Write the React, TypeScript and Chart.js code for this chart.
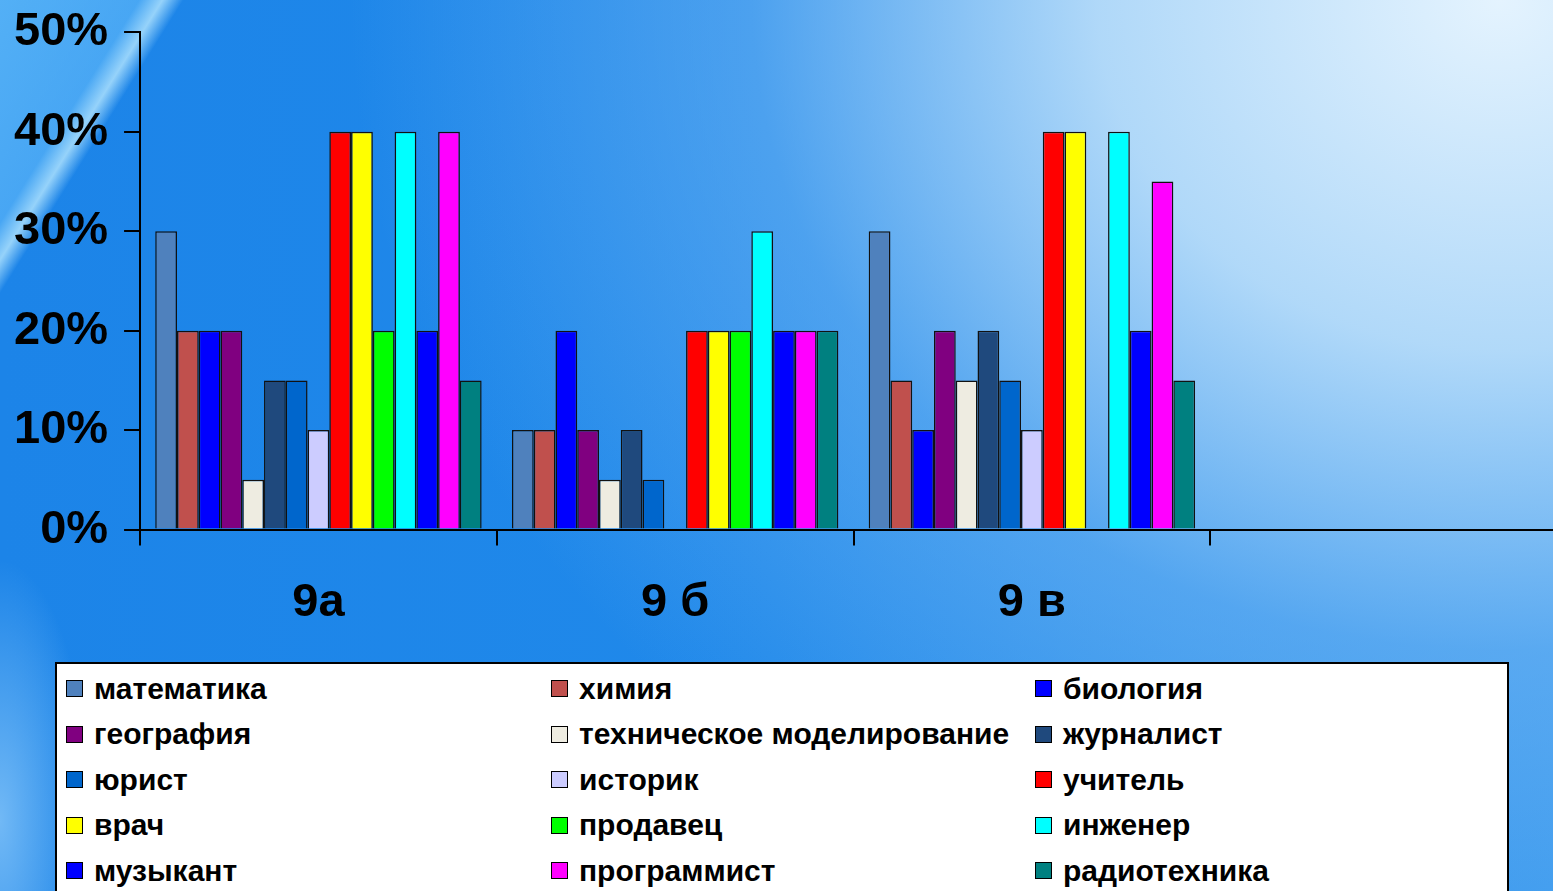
import React, { useEffect, useRef } from 'react';
import { Chart, registerables } from 'chart.js';

Chart.register(...registerables);

// categories on the x axis (the fourth one is empty in the original slide)
const categories = ['9а', '9 б', '9 в', ''];

const seriesNames = [
  'математика',
  'химия',
  'биология',
  'география',
  'техническое моделирование',
  'журналист',
  'юрист',
  'историк',
  'учитель',
  'врач',
  'продавец',
  'инженер',
  'музыкант',
  'программист',
  'радиотехника',
];

const seriesColors = [
  '#4F81BD',
  '#C0504D',
  '#0000FF',
  '#800080',
  '#EEECE1',
  '#1F497D',
  '#0066CC',
  '#CCCCFF',
  '#FF0000',
  '#FFFF00',
  '#00FF00',
  '#00FFFF',
  '#0000FF',
  '#FF00FF',
  '#008080',
];

// percent per series, one array per class
const values9a = [30, 20, 20, 20, 5, 15, 15, 10, 40, 40, 20, 40, 20, 40, 15];
const values9b = [10, 10, 20, 10, 5, 10, 5, 0, 20, 20, 20, 30, 20, 20, 20];
const values9v = [30, 15, 10, 20, 15, 20, 15, 10, 40, 40, 0, 40, 20, 35, 15];

const yMax = 50;
const yStep = 10;

const FONT = "'Liberation Sans', Arial, sans-serif";

function App() {
  const chartRef = useRef<HTMLCanvasElement>(null);
  const chartInstance = useRef<Chart | null>(null);

  useEffect(() => {
    if (!chartRef.current) return;
    const ctx = chartRef.current.getContext('2d');
    if (!ctx) return;

    if (chartInstance.current) {
      chartInstance.current.destroy();
      chartInstance.current = null;
    }

    const datasets = seriesNames.map((name, i) => ({
      label: name,
      data: [values9a[i], values9b[i], values9v[i], null],
      backgroundColor: seriesColors[i],
      borderColor: '#111',
      borderWidth: 1.5,
      barPercentage: 1,
      categoryPercentage: 0.915,
    }));

    chartInstance.current = new Chart(ctx, {
      type: 'bar',
      data: { labels: categories, datasets },
      options: {
        animation: false,
        responsive: true,
        maintainAspectRatio: false,
        layout: { padding: { top: 4, left: 0, right: 3, bottom: 12 } },
        plugins: {
          legend: { display: false },
          tooltip: { enabled: false },
        },
        scales: {
          x: {
            type: 'category',
            grid: {
              offset: true,
              drawOnChartArea: false,
              color: '#000',
              lineWidth: 2,
              tickLength: 16,
            },
            border: { display: true, color: '#000', width: 2 },
            ticks: {
              color: '#000',
              padding: 29,
              font: { family: FONT, size: 47, weight: 'bold' },
            },
          },
          y: {
            type: 'linear',
            min: 0,
            max: yMax,
            grid: {
              drawOnChartArea: false,
              color: '#000',
              lineWidth: 2,
              tickLength: 16,
            },
            border: { display: true, color: '#000', width: 2 },
            ticks: {
              stepSize: yStep,
              color: '#000',
              padding: 16,
              font: { family: FONT, size: 47, weight: 'bold' },
              callback: (v) => v + '%',
            },
          },
        },
      },
    });

    return () => {
      if (chartInstance.current) {
        chartInstance.current.destroy();
        chartInstance.current = null;
      }
    };
  }, []);

  const background = [
    'radial-gradient(ellipse 1150px 1000px at 1500px 0px, rgba(228,243,254,1) 0%, rgba(190,224,250,0.9) 35%, rgba(120,185,244,0.5) 65%, rgba(60,150,238,0) 100%)',
    'linear-gradient(122deg, rgba(120,205,255,0.6) 0%, rgba(115,200,255,0.5) 6.6%, rgba(180,230,255,0.8) 7.7%, rgba(40,140,235,0) 8.7%, rgba(40,140,235,0) 100%)',
    'radial-gradient(ellipse 90px 260px at 0px 820px, rgba(170,220,255,0.6), rgba(170,220,255,0))',
    'linear-gradient(90deg, #1C84E8 0%, #2089EA 50%, #3B9AEE 100%)',
  ].join(',');

  return (
    <div
      style={{
        position: 'fixed',
        left: 0,
        top: 0,
        width: 1553,
        height: 891,
        overflow: 'hidden',
        background,
        fontFamily: FONT,
      }}
    >
      <div style={{ position: 'absolute', left: -2, top: -12, width: 1572, height: 684 }}>
        <canvas ref={chartRef}></canvas>
      </div>
      <div
        style={{
          position: 'absolute',
          left: 55,
          top: 662,
          width: 1454,
          height: 260,
          background: '#fff',
          border: '2px solid #000',
          boxSizing: 'border-box',
          paddingLeft: 9,
          paddingTop: 2,
          display: 'grid',
          gridTemplateColumns: '485px 484px auto',
          gridAutoRows: '45.5px',
        }}
      >
        {seriesNames.map((name, i) => (
          <div key={name} style={{ display: 'flex', alignItems: 'center', whiteSpace: 'nowrap' }}>
            <span
              style={{
                display: 'inline-block',
                flex: 'none',
                width: 17,
                height: 17,
                boxSizing: 'border-box',
                border: '1.5px solid #000',
                background: seriesColors[i],
                marginRight: 11,
              }}
            />
            <span style={{ fontSize: 30, fontWeight: 'bold', color: '#000' }}>{name}</span>
          </div>
        ))}
      </div>
    </div>
  );
}

export default App;
